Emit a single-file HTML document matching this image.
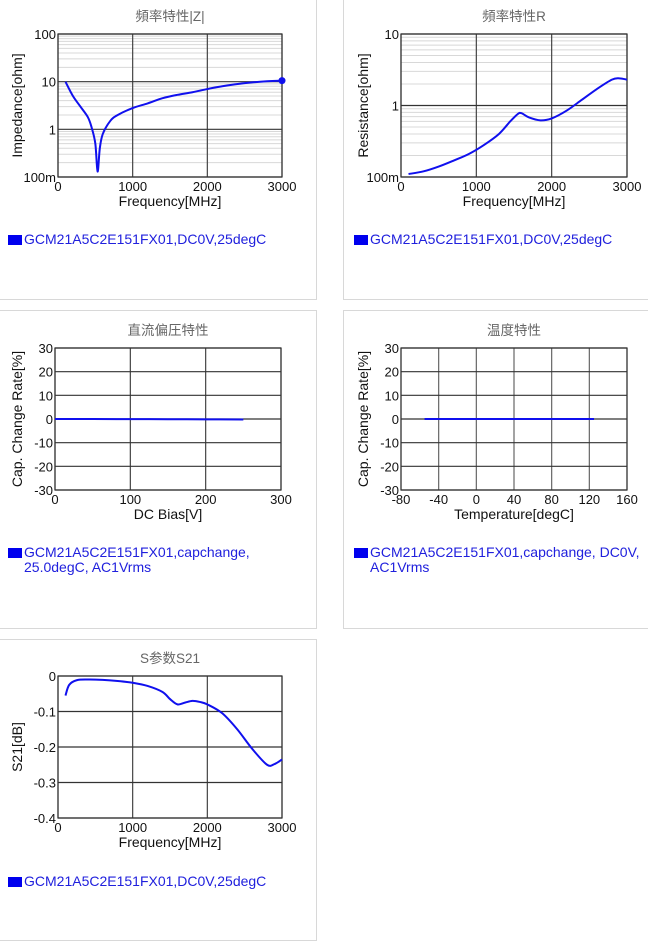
<!DOCTYPE html>
<html><head><meta charset="utf-8"><style>
body{margin:0;background:#fff;width:648px;height:940px;overflow:hidden;font-family:"Liberation Sans","Noto Sans CJK SC",sans-serif}
.panel{position:absolute;border:1px solid #d8d8d8;box-sizing:border-box}
</style></head><body>
<div class="panel" style="left:-1px;top:-1px;width:318px;height:301px"></div>
<div class="panel" style="left:343px;top:-1px;width:306px;height:301px"></div>
<div class="panel" style="left:-1px;top:310px;width:318px;height:319px"></div>
<div class="panel" style="left:343px;top:310px;width:306px;height:319px"></div>
<div class="panel" style="left:-1px;top:639px;width:318px;height:302px"></div>
<svg id="s" width="648" height="940" style="position:absolute;left:0;top:0"></svg>
<script>
// Chart 1: |Z|
const zFreq=[100,200,300,400,450,500,530,560,600,700,800,1000,1200,1400,1600,1800,2000,2200,2500,2800,3000];
const zVals=[10,5,3,1.8,1.1,0.5,0.13,0.4,0.8,1.5,2.0,2.8,3.5,4.5,5.3,6,7,8,9.3,10.2,10.5];
const zYTicks=["100m","1","10","100"];
const freqTicks=[0,1000,2000,3000];
// Chart 2: R
const rFreq=[100,300,500,700,900,1100,1300,1450,1550,1600,1700,1850,2000,2200,2400,2600,2800,2900,3000];
const rVals=[0.11,0.12,0.14,0.17,0.21,0.28,0.4,0.6,0.76,0.78,0.68,0.62,0.66,0.85,1.2,1.7,2.3,2.4,2.3];
const rYTicks=["100m","1","10"];
// Chart 3: DC bias
const dcV=[0,50,100,150,200,250];
const dcVals=[0,0,-0.05,-0.1,-0.15,-0.2];
const dcXTicks=[0,100,200,300];
const capYTicks=[-30,-20,-10,0,10,20,30];
// Chart 4: temperature
const tC=[-55,-25,0,25,50,85,125];
const tVals=[0,0,0,0,0,0,0];
const tXTicks=[-80,-40,0,40,80,120,160];
// Chart 5: S21
const sFreq=[100,150,250,400,600,800,1000,1200,1400,1500,1600,1700,1800,1900,2000,2200,2400,2600,2800,2900,3000];
const sVals=[-0.055,-0.025,-0.012,-0.01,-0.011,-0.014,-0.019,-0.028,-0.045,-0.065,-0.08,-0.075,-0.07,-0.073,-0.08,-0.105,-0.15,-0.205,-0.25,-0.248,-0.235];
const sYTicks=[-0.4,-0.3,-0.2,-0.1,0];

const S=document.getElementById('s');const NS='http://www.w3.org/2000/svg';
function mk(t,a,txt){const e=document.createElementNS(NS,t);for(const k in a)e.setAttribute(k,a[k]);if(txt!==undefined)e.textContent=txt;S.appendChild(e);return e;}
function smooth(P){let d='M'+P[0][0]+','+P[0][1];
  for(let i=0;i<P.length-1;i++){const p0=P[Math.max(0,i-1)],p1=P[i],p2=P[i+1],p3=P[Math.min(P.length-1,i+2)];
    const c1=[p1[0]+(p2[0]-p0[0])/6,p1[1]+(p2[1]-p0[1])/6],c2=[p2[0]-(p3[0]-p1[0])/6,p2[1]-(p3[1]-p1[1])/6];
    d+=` C${c1[0]},${c1[1]} ${c2[0]},${c2[1]} ${p2[0]},${p2[1]}`;}
  return d;}
function chart(o){
  const {x0,x1,y0,y1,xmin,xmax}=o;
  const X=v=>x0+(v-xmin)/(xmax-xmin)*(x1-x0);
  let Y;
  if(o.log){const a=Math.log10(o.ymin),b=Math.log10(o.ymax);Y=v=>y1-(Math.log10(v)-a)/(b-a)*(y1-y0);
    for(let d=a;d<b;d++)for(let m=2;m<10;m++){const yy=Y(m*Math.pow(10,d));const l=mk('line',{x1:x0,x2:x1,y1:yy,y2:yy,stroke:'#d8d8d8','stroke-width':1});}
  } else {Y=v=>y1-(v-o.ymin)/(o.ymax-o.ymin)*(y1-y0);}
  o.xt.forEach(t=>{const xx=X(t);const l=mk('line',{x1:xx,x2:xx,y1:y0,y2:y1,stroke:o.vcol||'#444','stroke-width':1.2});
    const tx=mk('text',{x:xx,y:y1+14,'text-anchor':'middle','font-size':13,fill:'#111'},t);});
  o.yt.forEach((t,i)=>{const v=o.log?o.ymin*Math.pow(10,i):t;const yy=Y(v);const l=mk('line',{x1:x0,x2:x1,y1:yy,y2:yy,stroke:'#333','stroke-width':1.2});
    const tx=mk('text',{x:x0-2,y:yy+5,'text-anchor':'end','font-size':13,fill:'#111'},t);});
  const r=mk('rect',{x:x0,y:y0,width:x1-x0,height:y1-y0,fill:'none',stroke:'#333','stroke-width':1.2});
  const pts=o.xs.map((v,i)=>[X(v),Y(o.ys[i])]);
  const p=mk('path',{d:smooth(pts),fill:'none',stroke:'#1010ee','stroke-width':2,'stroke-linejoin':'round'});
  if(o.dot){const c=mk('circle',{cx:X(o.xs[o.xs.length-1]),cy:Y(o.ys[o.ys.length-1]),r:3.5,fill:'#1010ee'});}
  const cx=(x0+x1)/2;
  const ti=mk('text',{x:cx,y:y0-13,'text-anchor':'middle','font-size':13.5,fill:'#666'},o.title);
  const xl=mk('text',{x:cx,y:y1+29,'text-anchor':'middle','font-size':14,fill:'#111'},o.xl);
  const yc=(y0+y1)/2;const yl=mk('text',{x:o.ylx,y:yc,'text-anchor':'middle','font-size':14,fill:'#111',transform:`rotate(-90 ${o.ylx} ${yc})`},o.yl);
  const sq=mk('rect',{x:o.lx,y:o.ly-9,width:14,height:10,fill:'#0000ee'});
  o.leg.forEach((s,i)=>{const t=mk('text',{x:o.lx+16,y:o.ly+i*15,'font-size':14,fill:'#2020dd'},s);});
}
chart({x0:58,x1:282,y0:34,y1:177,xmin:0,xmax:3000,log:true,ymin:0.1,ymax:100,xs:zFreq,ys:zVals,xt:freqTicks,yt:zYTicks,title:'頻率特性|Z|',xl:'Frequency[MHz]',yl:'Impedance[ohm]',ylx:22,lx:8,ly:244,leg:['GCM21A5C2E151FX01,DC0V,25degC'],dot:true});
chart({x0:401,x1:627,y0:34,y1:177,xmin:0,xmax:3000,log:true,ymin:0.1,ymax:10,xs:rFreq,ys:rVals,xt:freqTicks,yt:rYTicks,title:'頻率特性R',xl:'Frequency[MHz]',yl:'Resistance[ohm]',ylx:368,lx:354,ly:244,leg:['GCM21A5C2E151FX01,DC0V,25degC']});
chart({x0:55,x1:281,y0:348,y1:490,xmin:0,xmax:300,ymin:-30,ymax:30,xs:dcV,ys:dcVals,xt:dcXTicks,yt:capYTicks,title:'直流偏圧特性',xl:'DC Bias[V]',yl:'Cap. Change Rate[%]',ylx:22,lx:8,ly:557,leg:['GCM21A5C2E151FX01,capchange,','25.0degC, AC1Vrms']});
chart({x0:401,x1:627,y0:348,y1:490,xmin:-80,xmax:160,ymin:-30,ymax:30,xs:tC,ys:tVals,xt:tXTicks,yt:capYTicks,title:'温度特性',xl:'Temperature[degC]',yl:'Cap. Change Rate[%]',ylx:368,lx:354,ly:557,leg:['GCM21A5C2E151FX01,capchange, DC0V,','AC1Vrms'],vcol:'#666'});
chart({x0:58,x1:282,y0:676,y1:818,xmin:0,xmax:3000,ymin:-0.4,ymax:0,xs:sFreq,ys:sVals,xt:freqTicks,yt:sYTicks,title:'S参数S21',xl:'Frequency[MHz]',yl:'S21[dB]',ylx:22,lx:8,ly:886,leg:['GCM21A5C2E151FX01,DC0V,25degC']});
</script>
</body></html>
